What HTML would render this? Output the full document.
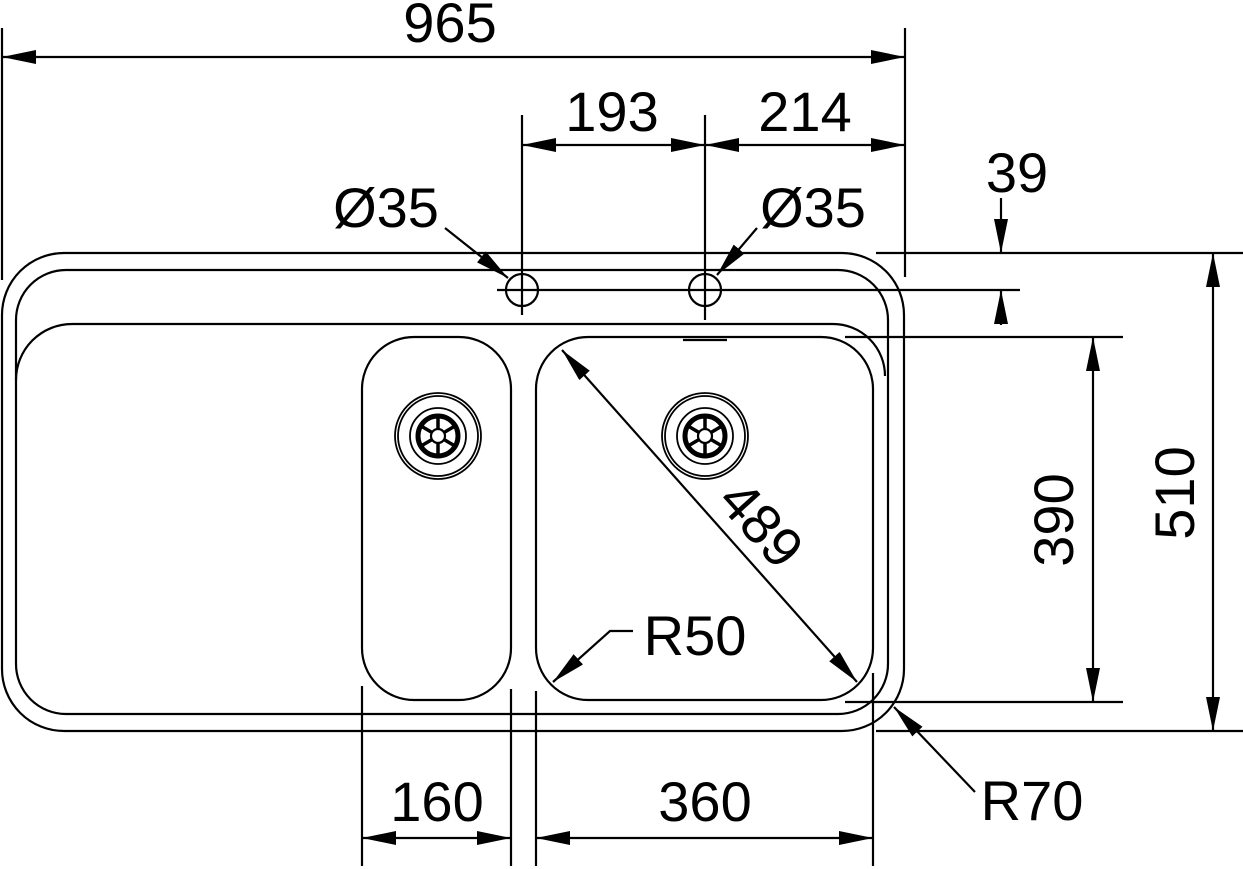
<!DOCTYPE html>
<html><head><meta charset="utf-8"><style>
html,body{margin:0;padding:0;background:#fff;}
svg{display:block}
text{font-family:"Liberation Sans",sans-serif;font-size:56px;fill:#000}
</style></head><body>
<svg width="1243" height="869" viewBox="0 0 1243 869" xmlns="http://www.w3.org/2000/svg">
<defs>
<marker id="a" viewBox="0 0 34 14" refX="34" refY="7" markerWidth="34" markerHeight="14" markerUnits="userSpaceOnUse" orient="auto-start-reverse"><path d="M0,0 L34,7 L0,14 Z" fill="#000"/></marker>
</defs>
<g fill="none" stroke="#000" stroke-width="2.2">
<rect x="2" y="253" width="902" height="478" rx="62" ry="62"/>
<rect x="16" y="270" width="872" height="444" rx="50" ry="50"/>
<path d="M16,380 A56,56 0 0 1 72,324 L833,324 A52,52 0 0 1 885,376"/>
<rect x="362" y="337" width="149" height="363" rx="52" ry="52"/>
<rect x="536" y="337" width="337" height="363" rx="52" ry="52"/>
<line x1="683" y1="340" x2="727" y2="340"/>
<circle cx="522" cy="290" r="16"/>
<circle cx="705" cy="290" r="16"/>
<line x1="497" y1="290" x2="1020" y2="290"/>
<line x1="522" y1="115" x2="522" y2="315"/>
<line x1="705" y1="115" x2="705" y2="320"/>
<g stroke-width="1.8">
<circle cx="438" cy="436" r="43"/><circle cx="438" cy="436" r="40"/>
<circle cx="438" cy="436" r="28"/><circle cx="705" cy="436" r="43"/>
<circle cx="705" cy="436" r="40"/><circle cx="705" cy="436" r="28"/>
</g>
<g stroke-width="5">
<circle cx="438" cy="436" r="20"/><circle cx="705" cy="436" r="20"/>
</g>
<g stroke-width="3.5">
<path d="M438,416 V456 M421,426 L455,446 M421,446 L455,426"/>
<path d="M705,416 V456 M688,426 L722,446 M688,446 L722,426"/>
</g>
<circle cx="438" cy="436" r="7" fill="#fff"/><circle cx="705" cy="436" r="7" fill="#fff"/>
<line x1="2" y1="28" x2="2" y2="280"/>
<line x1="905" y1="28" x2="905" y2="277"/>
<line x1="2" y1="57" x2="905" y2="57" marker-start="url(#a)" marker-end="url(#a)"/>
<line x1="522" y1="145" x2="705" y2="145" marker-start="url(#a)" marker-end="url(#a)"/>
<line x1="705" y1="145" x2="905" y2="145" marker-start="url(#a)" marker-end="url(#a)"/>
<line x1="445" y1="228" x2="508" y2="278" marker-end="url(#a)"/>
<line x1="757" y1="228" x2="717" y2="275" marker-end="url(#a)"/>
<line x1="876" y1="253" x2="1243" y2="253"/>
<line x1="1001" y1="198" x2="1001" y2="253" marker-end="url(#a)"/>
<line x1="1001" y1="325" x2="1001" y2="290" marker-end="url(#a)"/>
<line x1="845" y1="337" x2="1123" y2="337"/>
<line x1="845" y1="702" x2="1123" y2="702"/>
<line x1="1093" y1="337" x2="1093" y2="702" marker-start="url(#a)" marker-end="url(#a)"/>
<line x1="876" y1="731" x2="1243" y2="731"/>
<line x1="1213" y1="253" x2="1213" y2="731" marker-start="url(#a)" marker-end="url(#a)"/>
<line x1="362" y1="686" x2="362" y2="866"/>
<line x1="511" y1="689" x2="511" y2="866"/>
<line x1="536" y1="691" x2="536" y2="866"/>
<line x1="873" y1="673" x2="873" y2="866"/>
<line x1="362" y1="838" x2="511" y2="838" marker-start="url(#a)" marker-end="url(#a)"/>
<line x1="536" y1="838" x2="873" y2="838" marker-start="url(#a)" marker-end="url(#a)"/>
<line x1="562" y1="350" x2="857" y2="682" marker-start="url(#a)" marker-end="url(#a)"/>
<polyline points="633,631 610,631 553,682" marker-end="url(#a)"/>
<line x1="975" y1="792" x2="894" y2="707" marker-end="url(#a)"/>
</g>
<text x="450" y="42" text-anchor="middle">965</text>
<text x="612" y="131" text-anchor="middle">193</text>
<text x="805" y="131" text-anchor="middle">214</text>
<text x="386" y="227" text-anchor="middle">Ø35</text>
<text x="813" y="227" text-anchor="middle">Ø35</text>
<text x="1017" y="192" text-anchor="middle">39</text>
<text x="695" y="655" text-anchor="middle">R50</text>
<text x="1032" y="820" text-anchor="middle">R70</text>
<text x="437" y="821" text-anchor="middle">160</text>
<text x="705" y="821" text-anchor="middle">360</text>
<text transform="translate(1073,520) rotate(-90)" text-anchor="middle">390</text>
<text transform="translate(1194,493) rotate(-90)" text-anchor="middle">510</text>
<text transform="translate(747,537) rotate(48)" text-anchor="middle">489</text>
</svg>
</body></html>
